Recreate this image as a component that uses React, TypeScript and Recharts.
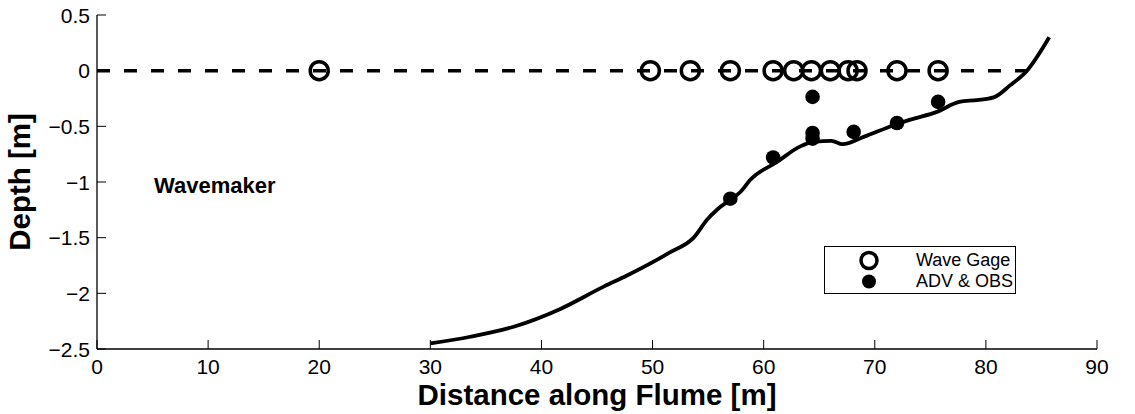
import React from 'react';
import { ComposedChart, Line, Scatter, XAxis, YAxis, ReferenceDot, Legend } from 'recharts';

// ---- data ----
const xTicks = [0, 10, 20, 30, 40, 50, 60, 70, 80, 90];
const yTicks = [0.5, 0, -0.5, -1, -1.5, -2, -2.5];

const bedX = [30, 33.6, 37.5, 41.7, 45.6, 47.7, 51.6, 53.7, 54.9, 55.9, 57.0, 57.9, 58.8, 61.2, 63.3, 64.5, 66.1, 67.1, 69.0, 71.7, 73.2, 75.6, 77.6, 79.2, 80.7, 82.2, 83.7, 85.7];
const bedDepth = [-2.45, -2.39, -2.3, -2.14, -1.94, -1.84, -1.63, -1.5, -1.34, -1.24, -1.16, -1.09, -0.98, -0.82, -0.68, -0.64, -0.63, -0.66, -0.595, -0.49, -0.44, -0.37, -0.28, -0.264, -0.24, -0.13, 0.0, 0.3];

const waterX = [0, 84];
const waterDepth = [0, 0];

const gageX = [20, 49.8, 53.4, 57.0, 60.85, 62.7, 64.3, 66.0, 67.6, 68.4, 72.0, 75.7];
const gageDepth = [0, 0, 0, 0, 0, 0, 0, 0, 0, 0, 0, 0];

const advX = [57.0, 60.85, 64.4, 64.4, 64.4, 68.1, 72.0, 75.7];
const advDepth = [-1.15, -0.78, -0.235, -0.56, -0.61, -0.55, -0.47, -0.28];

const seriesNames = { gage: 'Wave Gage', adv: 'ADV & OBS' };
const legendOrder = [seriesNames.gage, seriesNames.adv];
const annotation = { text: 'Wavemaker', x: 10.6, y: -1.03 };

// ---- built tables ----
const bedData = bedX.map((x, i) => ({ x, y: bedDepth[i] }));
const waterData = waterX.map((x, i) => ({ x, y: waterDepth[i] }));
const gageData = gageX.map((x, i) => ({ x, y: gageDepth[i] }));
const advData = advX.map((x, i) => ({ x, y: advDepth[i] }));

const FONT = "'Liberation Sans', Arial, Helvetica, sans-serif";
const TICK_FS = 21;
const LABEL_FS = 29.5;
const fmt = (v: number) => (v < 0 ? '\u2212' + String(Math.abs(v)) : String(v));

const BottomTick = (p: any) => (
  <g>
    <line x1={p.x} x2={p.x} y1={p.y} y2={p.y - 9} stroke="#000" strokeWidth={1} />
    <text x={p.x} y={p.y + 25} textAnchor="middle" fontSize={TICK_FS} fontFamily={FONT} fill="#000">
      {fmt(p.payload.value)}
    </text>
  </g>
);
const LeftTick = (p: any) => (
  <g>
    <line x1={p.x} x2={p.x + 9} y1={p.y} y2={p.y} stroke="#000" strokeWidth={1} />
    <text x={p.x - 7} y={p.y + 7.5} textAnchor="end" fontSize={TICK_FS} fontFamily={FONT} fill="#000">
      {fmt(p.payload.value)}
    </text>
  </g>
);
const TopTick = (p: any) => (
  <line x1={p.x} x2={p.x} y1={p.y} y2={p.y + 9} stroke="#000" strokeWidth={1} />
);
const RightTick = (p: any) => (
  <line x1={p.x} x2={p.x - 9} y1={p.y} y2={p.y} stroke="#000" strokeWidth={1} />
);

const OpenCircle = (p: any) => (
  <circle cx={p.cx} cy={p.cy} r={9} fill="none" stroke="#000" strokeWidth={3.5} />
);
const FilledDot = (p: any) => <circle cx={p.cx} cy={p.cy} r={7.3} fill="#000" />;

const renderLegend = (props: any) => {
  const items = legendOrder
    .map((n) => (props.payload || []).find((e: any) => e.value === n))
    .filter(Boolean);
  return (
    <div
      style={{
        boxSizing: 'border-box',
        width: 192,
        height: 48,
        border: '1.5px solid #000',
        background: '#fff',
        fontFamily: FONT,
        fontSize: 18,
        color: '#000',
        position: 'relative',
      }}
    >
      {items.map((e: any, i: number) => (
        <div
          key={e.value}
          style={{ position: 'absolute', left: 0, top: 3 + i * 21, height: 21, display: 'flex', alignItems: 'center' }}
        >
          <svg width={91} height={21} style={{ display: 'block' }}>
            {e.value === seriesNames.gage ? (
              <circle cx={44} cy={10.5} r={8} fill="none" stroke="#000" strokeWidth={3.5} />
            ) : (
              <circle cx={44} cy={10.5} r={7} fill="#000" />
            )}
          </svg>
          <span style={{ lineHeight: '21px' }}>{e.value}</span>
        </div>
      ))}
    </div>
  );
};

export default function App() {
  return (
    <div style={{ position: 'absolute', left: 0, top: 0, width: 1135, height: 414, background: '#fff' }}>
      <ComposedChart width={1135} height={414} margin={{ top: 15, right: 38, bottom: 0, left: 0 }}>
        <XAxis
          xAxisId="bottom"
          dataKey="x"
          type="number"
          domain={[0, 90]}
          ticks={xTicks}
          interval={0}
          allowDataOverflow
          height={65}
          tickSize={0}
          tickMargin={0}
          tickLine={false}
          axisLine={{ stroke: '#000', strokeWidth: 1.3 }}
          tick={BottomTick}
          label={{
            value: 'Distance along Flume [m]',
            content: (lp: any) => (
              <text
                x={lp.viewBox.x + lp.viewBox.width / 2}
                y={lp.viewBox.y + 56}
                textAnchor="middle"
                fontSize={LABEL_FS}
                fontWeight="bold"
                fontFamily={FONT}
                fill="#000"
              >
                {lp.value}
              </text>
            ),
          }}
        />
        <XAxis
          xAxisId="top"
          dataKey="x"
          type="number"
          orientation="top"
          domain={[0, 90]}
          ticks={xTicks}
          interval={0}
          allowDataOverflow
          height={0}
          tickSize={0}
          tickMargin={0}
          tickLine={false}
          axisLine={{ stroke: '#000', strokeWidth: 1.3 }}
          tick={TopTick}
        />
        <YAxis
          yAxisId="left"
          dataKey="y"
          type="number"
          domain={[-2.5, 0.5]}
          ticks={yTicks}
          interval={0}
          allowDataOverflow
          width={97}
          tickSize={0}
          tickMargin={0}
          tickLine={false}
          axisLine={{ stroke: '#000', strokeWidth: 1.3 }}
          tick={LeftTick}
          label={{
            value: 'Depth [m]',
            content: (lp: any) => {
              const cx = 30;
              const cy = lp.viewBox.y + lp.viewBox.height / 2;
              return (
                <text
                  x={cx}
                  y={cy}
                  transform={`rotate(-90 ${cx} ${cy})`}
                  textAnchor="middle"
                  fontSize={LABEL_FS}
                  fontWeight="bold"
                  fontFamily={FONT}
                  fill="#000"
                >
                  {lp.value}
                </text>
              );
            },
          }}
        />
        <YAxis
          yAxisId="right"
          dataKey="y"
          type="number"
          orientation="right"
          domain={[-2.5, 0.5]}
          ticks={yTicks}
          interval={0}
          allowDataOverflow
          width={0}
          tickSize={0}
          tickMargin={0}
          tickLine={false}
          axisLine={{ stroke: '#000', strokeWidth: 1.3 }}
          tick={RightTick}
        />
        <Line
          xAxisId="bottom"
          yAxisId="left"
          data={waterData}
          dataKey="y"
          type="linear"
          stroke="#000"
          strokeWidth={3.5}
          strokeDasharray="13 14"
          dot={false}
          activeDot={false}
          legendType="none"
          isAnimationActive={false}
        />
        <Line
          xAxisId="bottom"
          yAxisId="left"
          data={bedData}
          dataKey="y"
          type="monotone"
          stroke="#000"
          strokeWidth={3.8}
          dot={false}
          activeDot={false}
          legendType="none"
          isAnimationActive={false}
        />
        <Scatter
          xAxisId="bottom"
          yAxisId="left"
          name={seriesNames.gage}
          data={gageData}
          dataKey="y"
          shape={OpenCircle}
          isAnimationActive={false}
        />
        <Scatter
          xAxisId="bottom"
          yAxisId="left"
          name={seriesNames.adv}
          data={advData}
          dataKey="y"
          shape={FilledDot}
          isAnimationActive={false}
        />
        <ReferenceDot
          xAxisId="bottom"
          yAxisId="left"
          x={annotation.x}
          y={annotation.y}
          r={0}
          fill="none"
          stroke="none"
          ifOverflow="visible"
          label={{
            value: annotation.text,
            content: (lp: any) => {
              const vb = lp.viewBox || {};
              const cx = (vb.x ?? 0) + (vb.width ?? 0) / 2;
              const cy = (vb.y ?? 0) + (vb.height ?? 0) / 2;
              return (
                <text x={cx} y={cy + 8} textAnchor="middle" fontSize={22} fontWeight="bold" fontFamily={FONT} fill="#000">
                  {annotation.text}
                </text>
              );
            },
          }}
        />
        <Legend
          layout="vertical"
          align="center"
          verticalAlign="middle"
          content={renderLegend}
          wrapperStyle={{ left: 824, top: 246, width: 192, height: 48 }}
        />
      </ComposedChart>
    </div>
  );
}
